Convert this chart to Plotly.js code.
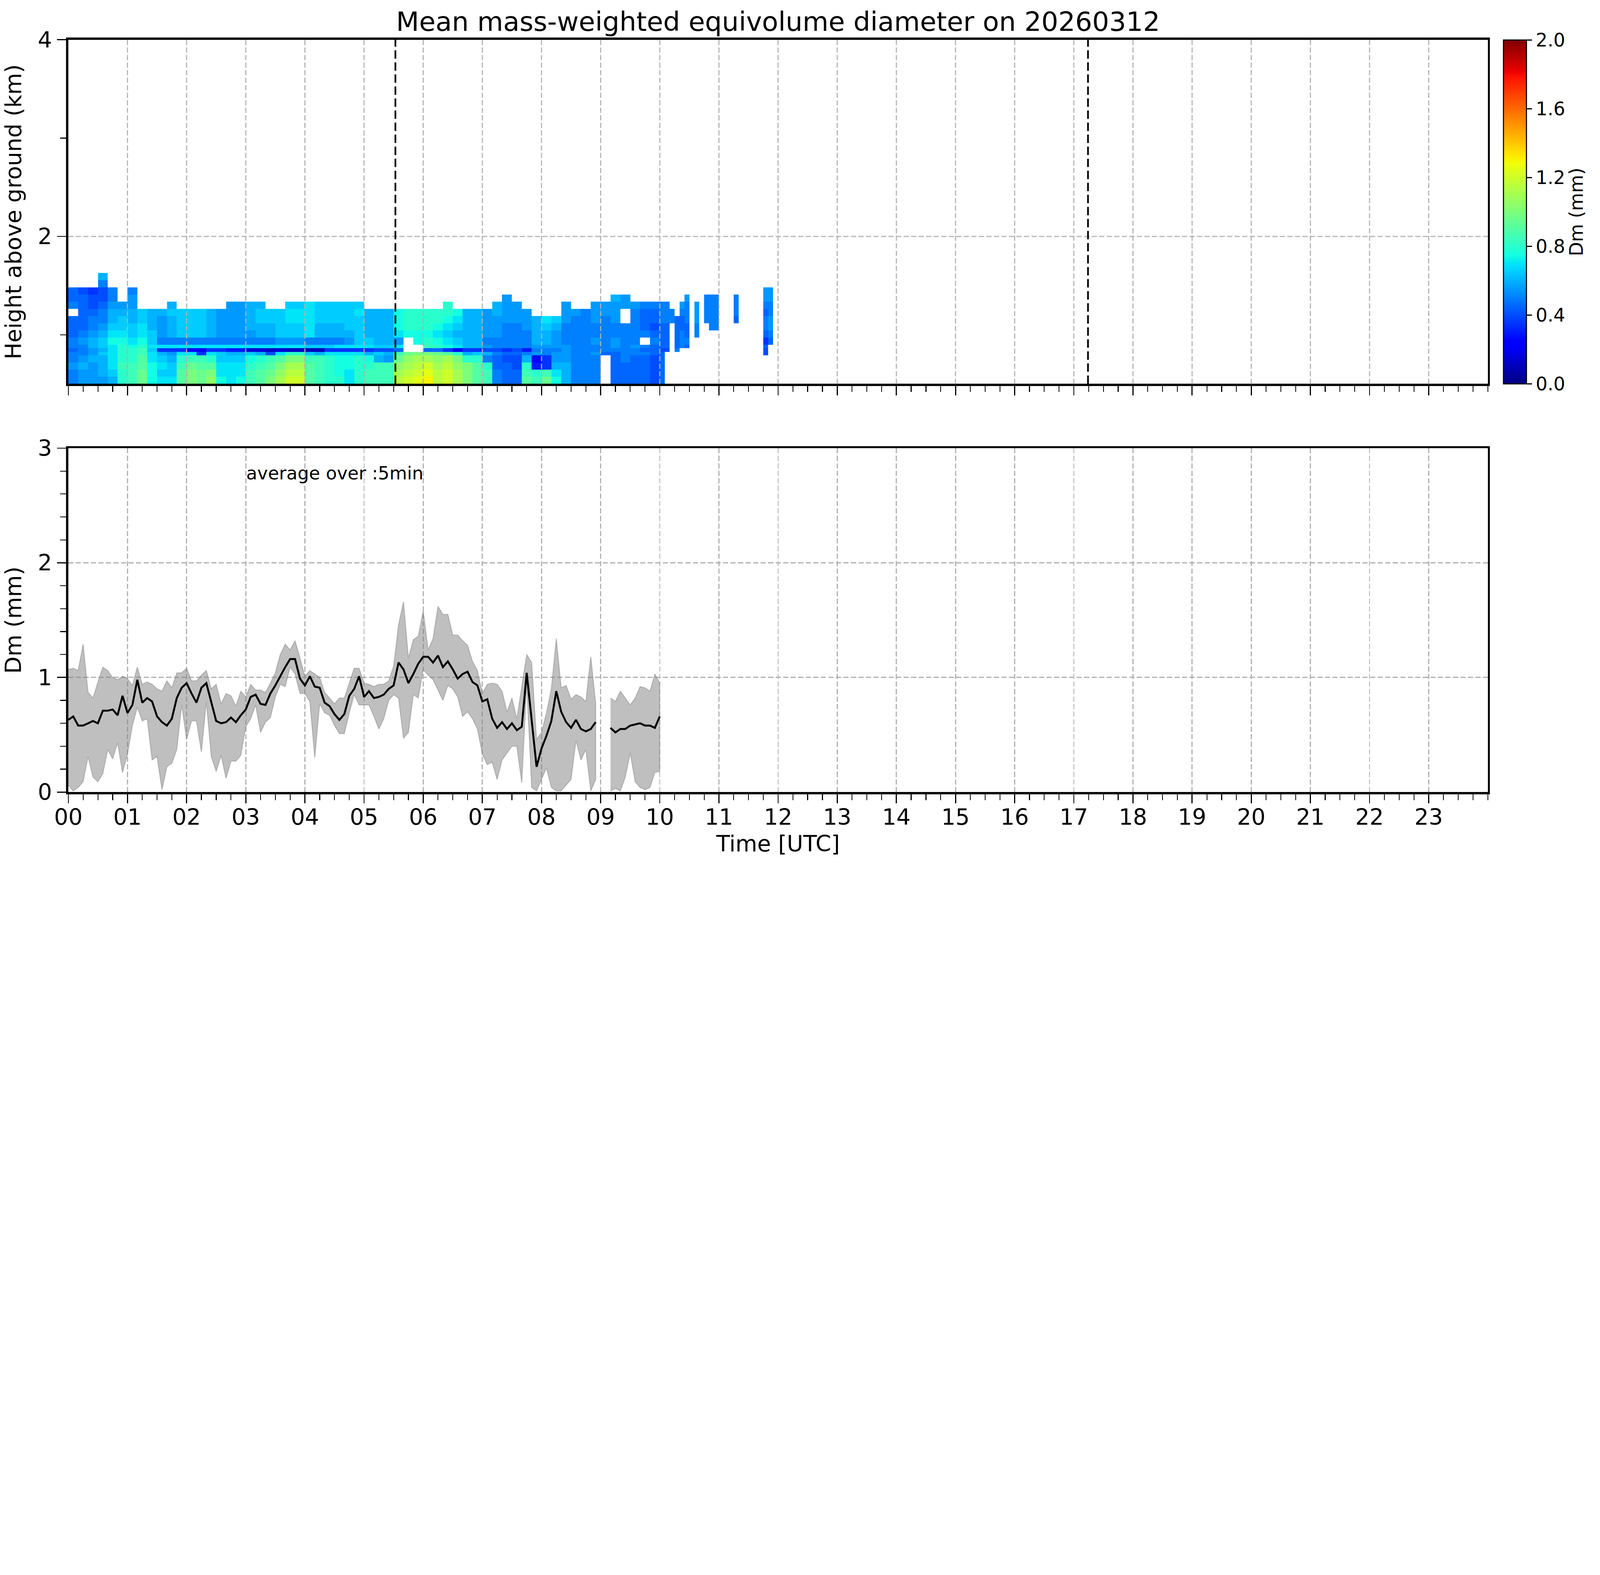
<!DOCTYPE html>
<html>
<head>
<meta charset="utf-8">
<script src="https://cdn.plot.ly/plotly-3.0.1.min.js"></script>
<style>html,body{margin:0;padding:0;background:#fff;overflow:hidden}
#grafico{width:7442px;height:4031px;transform-origin:0 0}</style>
</head>
<body>
<div id="grafico"></div>
<script>
// height bins (km) of the Dm profiles, lower to upper edge
const heightEdges = [0.5, 0.5725, 0.645, 0.7175, 0.79, 0.826, 0.862, 0.898, 0.971, 1.044,
	1.117, 1.19, 1.263, 1.336, 1.409, 1.482, 1.555, 1.628];

// Dm (mm) profiles, one per time bin, from the lowest bin upward (missing = no echo)
const dmProfiles = [
	[0.5,0.5,0.55,0.5,0.5,0.45,0.5,0.5,0.45,0.45,0.45,null,0.5,0.45,0.45],
	[0.55,0.55,0.6,0.55,0.5,0.5,0.5,0.55,0.5,0.45,0.45,0.45,0.45,0.45,0.4],
	[0.55,0.55,0.55,0.6,0.55,0.55,0.6,0.6,0.55,0.5,0.5,0.45,0.4,0.4,0.35],
	[0.55,0.6,0.6,0.6,0.65,0.6,0.65,0.65,0.6,0.55,0.5,0.5,0.45,0.4,0.4,0.5,0.6],
	[0.6,0.65,0.7,0.7,0.7,0.7,0.7,0.75,0.7,0.65,0.6,0.6,0.55,0.5,0.5],
	[0.8,0.8,0.85,0.8,0.8,0.8,0.8,0.75,0.7,0.65,0.65,0.6,0.55],
	[0.85,0.85,0.85,0.8,0.8,0.8,0.75,0.7,0.65,0.65,0.6,0.6,0.55,0.55,0.5],
	[0.95,0.95,0.9,0.9,0.85,0.85,0.8,0.75,0.7,0.7,0.65,0.65],
	[0.75,0.75,0.75,0.7,0.7,0.65,0.7,0.65,0.65,0.6,0.6,0.6],
	[0.7,0.65,0.7,0.65,0.6,0.35,0.7,0.5,0.55,0.55,0.55,0.6],
	[0.7,0.65,0.65,0.6,0.55,0.35,0.7,0.5,0.6,0.6,0.6,0.65,0.6],
	[0.9,0.9,0.85,0.8,0.7,0.35,0.7,0.5,0.65,0.65,0.65,0.65],
	[1.0,1.0,0.95,0.85,0.7,0.25,0.7,0.5,0.65,0.65,0.65,0.65],
	[0.95,0.95,0.9,0.85,0.35,0.2,0.7,0.5,0.65,0.65,0.65,0.65],
	[1.05,1.0,0.9,0.8,0.7,0.35,0.7,0.5,0.6,0.6,0.6,0.6],
	[0.75,0.7,0.7,0.65,0.65,0.35,0.7,0.5,0.55,0.55,0.55,0.55],
	[0.7,0.7,0.7,0.65,0.6,0.3,0.7,0.5,0.55,0.55,0.55,0.55,0.55],
	[0.75,0.7,0.7,0.65,0.6,0.3,0.7,0.5,0.55,0.55,0.55,0.55,0.55],
	[0.85,0.85,0.8,0.75,0.65,0.15,0.7,0.5,0.55,0.6,0.6,0.6,0.6],
	[0.9,0.9,0.85,0.8,0.6,0.15,0.7,0.5,0.6,0.6,0.65,0.65,0.6],
	[1.0,0.95,0.9,0.85,0.4,0.12,0.7,0.5,0.6,0.6,0.65,0.65],
	[1.1,1.05,1.0,0.9,0.7,0.15,0.7,0.55,0.65,0.65,0.65,0.65],
	[1.2,1.15,1.1,1.0,0.8,0.12,0.7,0.55,0.65,0.65,0.7,0.7,0.65],
	[1.2,1.15,1.1,1.0,0.8,0.12,0.7,0.55,0.65,0.65,0.7,0.7,0.65],
	[0.9,0.9,0.9,0.85,0.65,0.1,0.65,0.5,0.7,0.7,0.7,0.7,0.7],
	[0.85,0.85,0.85,0.85,0.6,0.1,0.65,0.5,0.6,0.6,0.65,0.65,0.65],
	[0.8,0.8,0.8,0.8,0.7,0.35,0.65,0.5,0.6,0.6,0.65,0.65,0.65],
	[0.8,0.75,0.75,0.75,0.7,0.35,0.7,0.5,0.6,0.6,0.65,0.65,0.65],
	[0.7,0.7,0.75,0.75,0.7,0.35,0.7,0.55,0.6,0.65,0.65,0.65,0.65],
	[0.8,0.8,0.8,0.8,0.7,0.35,0.7,0.65,0.65,0.65,0.65,0.7,0.65],
	[0.85,0.85,0.8,0.75,0.6,0.35,0.7,0.65,0.6,0.6,0.6,0.6],
	[0.85,0.85,0.85,0.6,0.65,0.4,0.65,0.6,0.6,0.6,0.6,0.6],
	[0.85,0.85,0.85,0.55,0.6,0.4,0.65,0.6,0.6,0.6,0.6,0.6],
	[1.15,1.1,1.05,0.95,0.85,0.45,0.7,0.55,0.7,0.75,0.75,0.75],
	[1.2,1.15,1.1,1.05,0.95,null,null,null,0.75,0.8,0.8,0.8],
	[1.25,1.2,1.15,1.1,1.0,null,null,0.75,0.75,0.8,0.8,0.8],
	[1.3,1.25,1.2,1.1,1.0,0.45,0.85,0.8,0.75,0.8,0.8,0.8],
	[1.15,1.15,1.1,1.05,0.95,0.45,0.8,0.75,0.7,0.75,0.8,0.8],
	[1.2,1.2,1.15,1.1,0.9,0.35,0.75,0.7,0.65,0.7,0.75,0.8,0.8],
	[1.1,1.1,1.05,1.0,0.8,0.2,0.7,0.65,0.6,0.65,0.7,0.75],
	[1.0,1.0,1.0,0.8,0.6,0.35,0.6,0.6,0.6,0.6,0.6,0.6],
	[0.9,0.9,0.9,0.8,0.65,0.35,0.6,0.6,0.6,0.6,0.6,0.6],
	[0.85,0.85,0.8,0.5,0.6,0.4,0.55,0.5,0.55,0.55,0.55,0.55],
	[0.5,0.5,0.45,0.45,0.5,0.4,0.5,0.5,0.55,0.55,0.55,0.6,0.6],
	[0.45,0.45,0.45,0.4,0.45,0.35,0.5,0.5,0.5,0.5,0.55,0.55,0.55,0.55],
	[0.45,0.45,0.4,0.4,0.45,0.4,0.5,0.5,0.5,0.5,0.55,0.55,0.55],
	[0.9,0.85,0.8,0.6,0.5,0.3,0.5,0.5,0.5,0.55,0.55,0.55],
	[0.85,0.8,0.3,0.25,0.55,0.5,0.55,0.6,0.6,0.6,0.6],
	[0.95,0.85,0.35,0.35,0.5,0.5,0.55,0.6,0.6,0.65,0.7],
	[0.75,0.7,0.6,0.55,0.55,0.5,0.55,0.55,0.55,0.6,0.65],
	[0.6,0.6,0.6,0.55,0.55,0.55,0.55,0.5,0.5,0.5,0.55,0.55,0.55],
	[0.5,0.5,0.5,0.5,0.5,0.5,0.5,0.5,0.5,0.5,0.5,0.55],
	[0.5,0.5,0.5,0.5,0.5,0.5,0.5,0.5,0.5,0.5,0.5,0.5],
	[0.5,0.5,0.5,0.5,0.55,0.5,0.5,0.55,0.5,0.5,0.55,0.55,0.55],
	[null,null,null,null,0.45,0.5,0.5,0.5,0.5,0.5,0.5,0.55,0.55],
	[0.45,0.45,0.45,0.45,0.45,0.5,0.55,0.55,0.5,0.5,0.55,0.55,0.55,0.6],
	[0.45,0.45,0.45,0.5,0.5,0.5,0.5,0.5,0.5,0.5,null,null,0.55,0.55],
	[0.45,0.45,0.45,0.45,0.5,0.5,0.55,0.5,0.5,0.5,0.5,0.5,0.55],
	[0.45,0.45,0.45,0.45,0.5,0.45,0.5,null,0.5,0.45,0.45,0.45,0.5],
	[0.4,0.4,0.4,0.4,0.45,0.45,0.45,0.5,0.45,0.4,0.45,0.45,0.5],
	// from 10 UTC on: 5 min bins
	[0.45,0.45,0.45,0.45,0.45,0.4,0.45,0.45,0.45,0.45,0.5,0.5,0.5],
	[null,null,null,null,null,0.4,0.45,0.45,0.45,0.45,0.5,0.5,0.5],
	[null,null,null,null,null,null,null,null,null,null,0.5,0.5],
	[null,null,null,null,null,0.5,0.45,0.45,0.45,0.45,0.45],
	[null,null,null,null,null,null,0.5,0.5,0.5,0.45,0.45,0.5,0.55],
	[null,null,null,null,null,null,0.45,0.5,0.45,0.45,0.5,0.5,0.5,0.55],
	[],
	[null,null,null,null,null,null,null,null,0.5,0.5,0.55,0.55,0.55],
	[],
	[null,null,null,null,null,null,null,null,null,null,0.5,0.5,0.5,0.5],
	[null,null,null,null,null,null,null,null,null,0.5,0.5,0.5,0.5,0.5],
	[null,null,null,null,null,null,null,null,null,0.5,0.5,0.5,0.5,0.5],
	[], [], [],
	[null,null,null,null,null,null,null,null,null,null,0.45,0.5,0.5,0.5],
	[], [], [], [], [],
	[null,null,null,null,0.4,0.4,0.45,0.35,0.45,0.5,0.5,0.45,0.5,0.55,0.55],
	[null,null,null,null,null,null,null,0.45,0.5,0.55,0.55,0.5,0.5,0.55,0.55],
	[]
];

// 5 min averages of Dm (mm) near ground, 00:00 to 10:00 UTC
const dmMean = [
	0.63,0.66,0.58,0.58,0.60,0.62,0.60,0.71,0.71,0.72,
	0.67,0.84,0.69,0.76,0.98,0.78,0.82,0.79,0.66,0.61,
	0.58,0.64,0.82,0.91,0.95,0.86,0.78,0.91,0.95,0.78,
	0.62,0.60,0.61,0.65,0.61,0.67,0.72,0.83,0.85,0.77,
	0.76,0.86,0.93,1.01,1.09,1.16,1.16,0.99,0.93,1.01,
	0.92,0.91,0.78,0.75,0.68,0.63,0.68,0.84,0.90,1.01,
	0.83,0.88,0.82,0.83,0.85,0.90,0.93,1.13,1.07,0.95,
	1.03,1.12,1.18,1.18,1.13,1.19,1.09,1.14,1.07,0.99,
	1.03,1.05,0.96,0.93,0.79,0.81,0.64,0.56,0.61,0.55,
	0.60,0.54,0.57,1.04,0.63,0.22,0.38,0.49,0.62,0.88,
	0.70,0.61,0.56,0.63,0.55,0.53,0.55,0.61,null,null,
	0.56,0.52,0.55,0.55,0.58,0.59,0.60,0.58,0.58,0.56,0.66
];
const dmUpper = [
	1.07,1.08,1.06,1.29,0.87,0.82,0.96,1.09,1.06,1.00,
	0.98,1.01,0.99,0.93,1.09,0.94,0.96,0.94,0.90,0.88,
	0.97,0.91,1.04,1.04,1.08,0.97,0.97,1.02,1.06,0.90,
	0.94,0.77,0.86,0.84,0.75,0.88,0.83,0.94,0.89,0.89,
	0.87,0.95,1.04,1.20,1.29,1.24,1.32,1.17,1.01,1.06,
	1.03,1.00,0.87,0.82,0.77,0.82,0.82,0.95,1.08,1.08,
	0.95,0.94,0.92,0.94,0.94,0.97,1.10,1.46,1.66,1.17,
	1.33,1.36,1.58,1.24,1.34,1.62,1.55,1.55,1.37,1.37,
	1.32,1.28,1.14,1.06,0.86,0.94,0.95,0.94,0.88,0.70,
	0.82,0.64,0.92,1.20,1.13,0.46,0.52,0.69,0.90,1.34,
	0.91,0.93,0.81,0.85,0.83,0.79,1.18,0.77,null,null,
	0.82,0.79,0.88,0.82,0.76,0.82,0.92,0.91,0.88,1.03,0.95
];
const dmLower = [
	0.06,0.01,0.04,0.09,0.31,0.13,0.09,0.16,0.37,0.29,
	0.43,0.17,0.33,0.58,0.74,0.62,0.64,0.28,0.31,0.02,
	0.22,0.25,0.37,0.76,0.46,0.62,0.62,0.35,0.79,0.31,
	0.18,0.32,0.12,0.27,0.27,0.32,0.57,0.64,0.76,0.52,
	0.61,0.65,0.83,0.94,0.92,1.09,1.03,0.86,0.86,0.79,
	0.30,0.77,0.69,0.67,0.58,0.51,0.51,0.69,0.85,0.76,
	0.76,0.76,0.66,0.55,0.64,0.80,0.85,0.82,0.47,0.52,
	0.85,0.82,1.07,1.02,0.98,0.89,0.80,0.93,0.90,0.83,
	0.66,0.70,0.64,0.55,0.33,0.24,0.26,0.11,0.28,0.34,
	0.40,0.40,0.08,0.95,0.04,0.01,0.11,0.21,0.04,0.01,
	0.01,0.06,0.11,0.45,0.28,0.37,0.01,0.11,null,null,
	0.01,0.03,0.01,0.13,0.34,0.09,0.04,0.02,0.04,0.17,0.18
];

// sunrise / sunset (UTC hours)
const sunTimes = [5.53, 17.24];
const hourLabels = ['00','01','02','03','04','05','06','07','08','09','10','11',
	'12','13','14','15','16','17','18','19','20','21','22','23'];

// time axis of the bins and of the averages
const binEdges = [];
for (let m = 0; m <= 600; m += 10) binEdges.push(m / 60);
for (let m = 605; m <= 720; m += 5) binEdges.push(m / 60);
const avgTimes = dmMean.map((v, i) => i * 5 / 60);

// heatmap wants rows per height
const zGrid = heightEdges.slice(1).map((h, r) =>
	dmProfiles.map(p => (p[r] === undefined ? null : p[r])));

// matplotlib jet
const jet = [
	[0, 'rgb(0,0,128)'], [0.11, 'rgb(0,0,255)'], [0.125, 'rgb(0,0,255)'],
	[0.34, 'rgb(0,219,255)'], [0.35, 'rgb(0,229,247)'], [0.375, 'rgb(20,255,226)'],
	[0.64, 'rgb(239,255,8)'], [0.65, 'rgb(247,245,0)'], [0.66, 'rgb(255,236,0)'],
	[0.89, 'rgb(255,19,0)'], [0.91, 'rgb(232,0,0)'], [1, 'rgb(128,0,0)']
];

const font = size => ({family: 'DejaVu Sans', size: size, color: 'black'});

const heat = {
	type: 'heatmap', x: binEdges, y: heightEdges, z: zGrid,
	zmin: 0, zmax: 2, colorscale: jet, zsmooth: false, hoverongaps: false,
	xaxis: 'x', yaxis: 'y',
	colorbar: {
		x: 0.9397, xanchor: 'left', xref: 'container', xpad: 0, ypad: 0,
		y: 0.5572, yanchor: 'bottom', yref: 'container', len: 0.3967, lenmode: 'fraction',
		thickness: 107, outlinewidth: 5, outlinecolor: 'black',
		tickmode: 'linear', tick0: 0, dtick: 0.4, tickformat: '.1f',
		ticks: 'outside', ticklen: 24, tickwidth: 5, tickcolor: 'black',
		tickfont: font(86),
		title: {text: 'Dm (mm)', side: 'right', font: font(86)}
	}
};

// split the band where there is no data
function runs(vals) {
	const out = [];
	let start = null;
	vals.forEach((v, i) => {
		if (v !== null && start === null) start = i;
		if ((v === null || i === vals.length - 1) && start !== null) {
			out.push([start, v === null ? i - 1 : i]);
			start = null;
		}
	});
	return out;
}

const bands = runs(dmUpper).map(([a, b]) => {
	const t = avgTimes.slice(a, b + 1);
	return {
		type: 'scatter', mode: 'lines', xaxis: 'x2', yaxis: 'y2',
		x: t.concat(t.slice().reverse()),
		y: dmUpper.slice(a, b + 1).concat(dmLower.slice(a, b + 1).reverse()),
		fill: 'toself', fillcolor: 'rgba(128,128,128,0.5)',
		line: {color: 'rgba(128,128,128,0.5)', width: 4}, hoverinfo: 'skip'
	};
});

const meanLine = {
	type: 'scatter', mode: 'lines', xaxis: 'x2', yaxis: 'y2',
	x: avgTimes, y: dmMean, connectgaps: false,
	line: {color: 'black', width: 9}
};

const gridDash = '24px,11px';
const xBase = {
	range: [0, 24], tickmode: 'array', tickvals: hourLabels.map((s, i) => i), ticktext: hourLabels,
	ticks: 'outside', ticklen: 43, tickwidth: 5, tickcolor: 'black',
	minor: {tickmode: 'linear', tick0: 0, dtick: 0.25, ticks: 'outside', ticklen: 28, tickwidth: 4, tickcolor: 'black', showgrid: false},
	showline: true, linewidth: 10, linecolor: 'black', mirror: true, zeroline: false,
	tickfont: font(104), ticklabelstandoff: -25,
	domain: [0.0427, 0.9299]
};

const shapes = [];
// dashed grid of the upper panel is drawn over the profiles
hourLabels.forEach((s, i) => {
	if (i === 0) return;
	shapes.push({type: 'line', xref: 'x', yref: 'y domain', x0: i, x1: i, y0: 0, y1: 1,
		line: {color: '#b0b0b0', width: 5, dash: gridDash}, layer: 'above'});
});
shapes.push({type: 'line', xref: 'x domain', yref: 'y', x0: 0, x1: 1, y0: 2, y1: 2,
	line: {color: '#b0b0b0', width: 5, dash: gridDash}, layer: 'above'});
sunTimes.forEach(t => shapes.push({type: 'line', xref: 'x', yref: 'y domain', x0: t, x1: t, y0: 0, y1: 1,
	line: {color: 'black', width: 8, dash: '39px,17px'}, layer: 'above'}));

const layout = {
	width: 7442, height: 4031,
	margin: {l: 0, r: 0, t: 0, b: 0, autoexpand: false},
	paper_bgcolor: 'white', plot_bgcolor: 'white',
	font: font(104),
	showlegend: false,
	title: {text: 'Mean mass-weighted equivolume diameter on 20260312',
		x: 0.4863, xanchor: 'center', y: 0.9752, yanchor: 'middle', font: font(124)},
	xaxis: Object.assign({}, xBase, {anchor: 'y', showticklabels: false, showgrid: false}),
	yaxis: {
		domain: [0.5572, 0.9541], range: [0.5, 4], anchor: 'x',
		tickmode: 'array', tickvals: [2, 4], ticktext: ['2', '4'],
		minor: {tickmode: 'array', tickvals: [1, 3], ticks: 'outside', ticklen: 28, tickwidth: 4, tickcolor: 'black', showgrid: false},
		ticks: 'outside', ticklen: 43, tickwidth: 5, tickcolor: 'black',
		showline: true, linewidth: 10, linecolor: 'black', mirror: true, zeroline: false, showgrid: false,
		tickfont: font(104), ticklabelstandoff: 2,
		title: {text: 'Height above ground (km)', font: font(104), standoff: 47}
	},
	xaxis2: Object.assign({}, xBase, {
		anchor: 'y2', showgrid: true, gridcolor: '#b0b0b0', gridwidth: 5, griddash: gridDash,
		title: {text: 'Time [UTC]', font: font(104), standoff: 30}
	}),
	yaxis2: {
		domain: [0.0863, 0.4830], range: [0, 3], anchor: 'x2',
		tickmode: 'linear', tick0: 0, dtick: 1,
		minor: {tickmode: 'linear', tick0: 0, dtick: 0.2, ticks: 'outside', ticklen: 28, tickwidth: 4, tickcolor: 'black', showgrid: false},
		ticks: 'outside', ticklen: 43, tickwidth: 5, tickcolor: 'black',
		showline: true, linewidth: 10, linecolor: 'black', mirror: true, zeroline: false,
		showgrid: true, gridcolor: '#b0b0b0', gridwidth: 5, griddash: gridDash,
		tickfont: font(104), ticklabelstandoff: 2,
		title: {text: 'Dm (mm)', font: font(104), standoff: 47}
	},
	annotations: [{
		xref: 'x2', yref: 'y2', x: 3.0, y: 2.78, xanchor: 'left', yanchor: 'middle', showarrow: false,
		text: 'average over :5min', font: font(84)
	}],
	shapes: shapes
};

Plotly.newPlot('grafico', [heat].concat(bands, [meanLine]), layout, {displayModeBar: false, staticPlot: true})
	.then(() => {
		// the window may be smaller than the figure: shrink it to fit
		const s = Math.min(1, window.innerWidth / 7442, window.innerHeight / 4031);
		document.getElementById('grafico').style.transform = 'scale(' + s + ')';
	});
</script>
</body>
</html>
